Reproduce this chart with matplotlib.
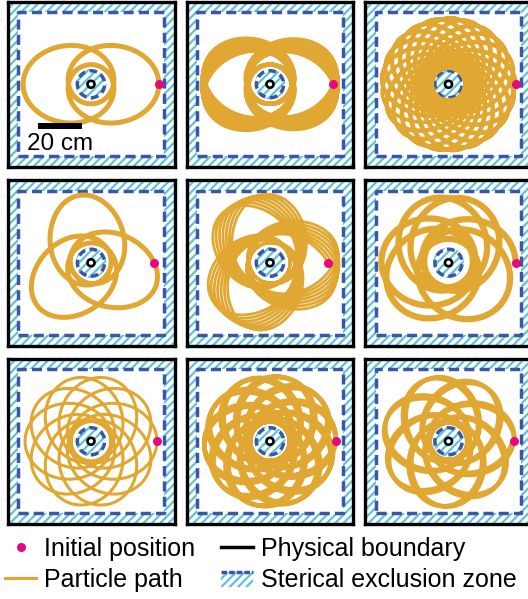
import numpy as np
import matplotlib
matplotlib.use("Agg")
import matplotlib.pyplot as plt
from matplotlib.patches import Rectangle, Circle, PathPatch
from matplotlib.path import Path
from matplotlib.lines import Line2D

plt.rcParams['font.family'] = ['Liberation Sans', 'DejaVu Sans']
plt.rcParams['hatch.linewidth'] = 1.6

# Arena geometry (cm)
box_half = 38.0          # physical boundary (half side)
zone_width = 4.9         # sterical exclusion band along the walls
post_radius = 1.6        # central post
post_zone_radius = 7.0   # exclusion disk around the post
post_dash_radius = 6.2

# Orbit parameters for the 3x3 panels (row-major)
apo_radius = [30.9, 30.9, 30.5, 31.4, 31.4, 30.5, 30.0, 30.0, 30.0]
peri_radius = [9.0, 9.0, 7.5, 9.1, 9.1, 11.0, 9.0, 9.0, 8.5]
apsidal_ratio = [2 / 3, 0.6642, 0.6773, 0.75, 0.74636, 0.77, 10 / 11, 0.9082, 0.873]
revolutions = [3, 30, 60, 4, 28, 7, 11, 33, 16]
apo_angle_deg = [0, -20, 0, -20, -30, 0, 0, 0, 0]
path_width = [3.6, 3.0, 2.6, 3.6, 2.0, 4.5, 2.2, 3.2, 3.2]
shape_exponent = [0.5, 0.5, 0.5, 0.5, 0.5, 0.7, 1.0, 1.0, 0.8]

# Scale bar
bar_length_cm = 20
bar_label = "20 cm"

PATH_C = '#E0A832'
START_C = '#E5097F'
HATCH_C = '#5EC3DA'
DASH_C = '#3A56A5'

W, H = 528, 599
fig = plt.figure(figsize=(W / 100, H / 100), dpi=100)

col_left = [7.5, 186.5, 365.0]
row_top = [1.5, 180.0, 358.5]
ax_w, ax_h = 167.0, 165.5

dash_style = (0, (2.9, 1.5))


def orbit(r_apo, r_peri, nu, turns, apo_deg, q, n=24000):
    s = (r_peri / r_apo) ** (1 / q)
    e = (1 - s) / (1 + s)
    phi = np.linspace(0, 2 * np.pi * turns, n)
    r = r_apo * ((1 - e) / (1 - e * np.cos(nu * (phi - np.deg2rad(apo_deg))))) ** q
    return r * np.cos(phi), r * np.sin(phi)


def draw_arena(ax):
    B = box_half
    inner = B - zone_width
    verts = [(-B, -B), (B, -B), (B, B), (-B, B), (-B, -B),
             (-inner, -inner), (-inner, inner), (inner, inner), (inner, -inner), (-inner, -inner)]
    codes = [Path.MOVETO, Path.LINETO, Path.LINETO, Path.LINETO, Path.CLOSEPOLY] * 2
    band = PathPatch(Path(verts, codes), facecolor='white', edgecolor=HATCH_C,
                     hatch='////', lw=0, zorder=1)
    ax.add_patch(band)
    ax.add_patch(Rectangle((-inner, -inner), 2 * inner, 2 * inner, fill=False,
                           edgecolor=DASH_C, lw=2.5, ls=dash_style,
                           joinstyle='round', zorder=2))
    ax.add_patch(Circle((0, 0), post_zone_radius, facecolor='white',
                        edgecolor=HATCH_C, hatch='////', lw=0, zorder=1))
    ax.add_patch(Circle((0, 0), post_dash_radius, fill=False, edgecolor=DASH_C,
                        lw=2.5, ls=(0, (2.2, 1.3)), zorder=2))


for i in range(9):
    r, c = divmod(i, 3)
    left = col_left[c] / W
    bottom = 1 - (row_top[r] + ax_h) / H
    ax = fig.add_axes([left, bottom, ax_w / W, ax_h / H])
    ax.set_xlim(-box_half, box_half)
    ax.set_ylim(-box_half, box_half)
    ax.set_xticks([])
    ax.set_yticks([])
    for s in ax.spines.values():
        s.set_linewidth(2.4)
        s.set_color('black')
        s.set_zorder(10)
    draw_arena(ax)
    x, y = orbit(apo_radius[i], peri_radius[i], apsidal_ratio[i],
                 revolutions[i], apo_angle_deg[i], shape_exponent[i])
    ax.plot(x, y, color=PATH_C, lw=path_width[i], solid_joinstyle='round',
            solid_capstyle='round', zorder=3)
    ax.plot([x[0]], [y[0]], 'o', color=START_C, ms=6.5, mec='none', zorder=6)
    ax.add_patch(Circle((0, 0), post_radius, facecolor='white', edgecolor='black',
                        lw=1.9, zorder=7))
    if i == 0:
        bx0 = -24.0
        ax.plot([bx0, bx0 + bar_length_cm], [-19.3, -19.3], color='black',
                lw=4.3, solid_capstyle='butt', zorder=8)
        ax.text(bx0 + bar_length_cm / 2, -27.5, bar_label, ha='center', va='center',
                fontsize=17.5, zorder=8)


class ZoneHandler:
    def legend_artist(self, legend, orig_handle, fontsize, handlebox):
        x0, y0 = handlebox.xdescent, handlebox.ydescent
        w, h = handlebox.width, handlebox.height
        tr = handlebox.get_transform()
        rect = Rectangle((x0, y0), w, h * 0.85, facecolor='white', edgecolor=HATCH_C,
                         hatch='////', lw=0, transform=tr)
        line = Line2D([x0, x0 + w], [y0 + h * 0.85] * 2, color=DASH_C, lw=2.5,
                      ls=(0, (1.6, 0.6)), transform=tr)
        handlebox.add_artist(rect)
        handlebox.add_artist(line)
        return rect


zone_handle = Rectangle((0, 0), 1, 1)
handles = [
    Line2D([], [], ls='none', marker='o', color=START_C, ms=6.5, mec='none'),
    Line2D([], [], color=PATH_C, lw=2.2),
    Line2D([], [], color='black', lw=2.5),
    zone_handle,
]
labels = ["Initial position", "Particle path", "Physical boundary", "Sterical exclusion zone"]
fig.legend(handles, labels, ncol=2, loc='upper left',
           bbox_to_anchor=(0.0 / W, 1 - 532 / H), frameon=False, fontsize=18,
           handlelength=1.25, handletextpad=0.33, columnspacing=1.03,
           labelspacing=0.28, borderaxespad=0, borderpad=0.2,
           handler_map={zone_handle: ZoneHandler()})

fig.savefig("out.png", dpi=100)
